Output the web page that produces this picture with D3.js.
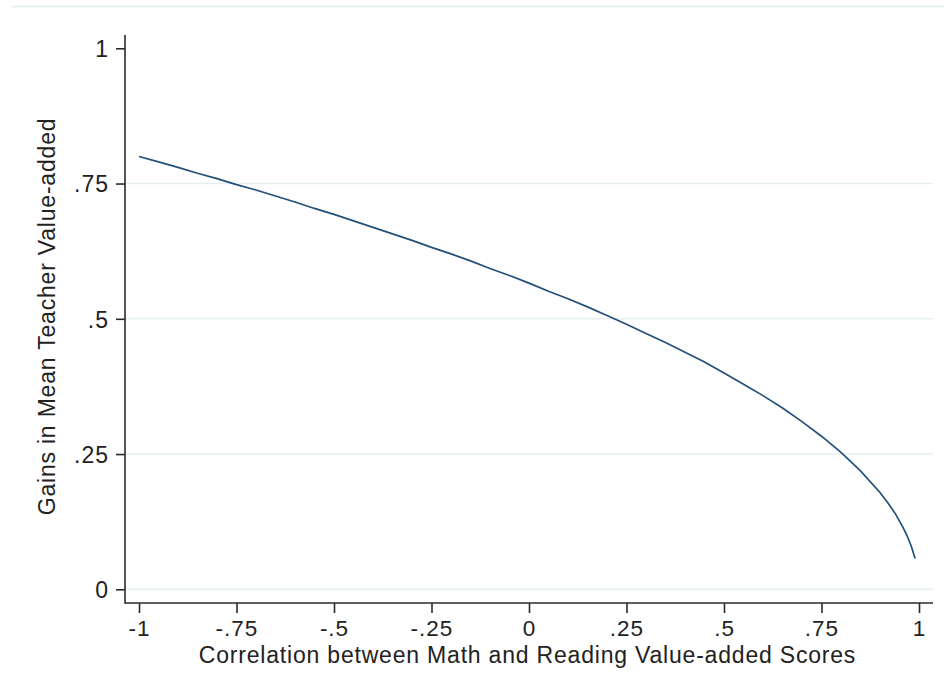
<!DOCTYPE html>
<html>
<head>
<meta charset="utf-8">
<script src="https://cdn.jsdelivr.net/npm/d3@7"></script>
<style>
  html, body { margin: 0; padding: 0; background: #ffffff; }
  svg { display: block; }
  text { font-family: "Liberation Sans", Arial, sans-serif; fill: #222; }
</style>
</head>
<body>
<svg id="chart" width="944" height="693"></svg>
<script>
// ---- data ----
const correlation = [-1, -0.95, -0.9, -0.85, -0.8, -0.75, -0.7, -0.65, -0.6, -0.55,
  -0.5, -0.45, -0.4, -0.35, -0.3, -0.25, -0.2, -0.15, -0.1, -0.05,
  0, 0.05, 0.1, 0.15, 0.2, 0.25, 0.3, 0.35, 0.4, 0.45,
  0.5, 0.55, 0.6, 0.65, 0.7, 0.75, 0.8, 0.85, 0.9, 0.92, 0.94, 0.96, 0.97, 0.98, 0.99];
const gains = [0.800, 0.790, 0.780, 0.769, 0.759, 0.748, 0.738, 0.727, 0.716, 0.704,
  0.693, 0.681, 0.669, 0.657, 0.645, 0.632, 0.620, 0.607, 0.593, 0.580,
  0.566, 0.551, 0.537, 0.522, 0.506, 0.490, 0.473, 0.456, 0.438, 0.420,
  0.400, 0.379, 0.358, 0.335, 0.310, 0.283, 0.253, 0.219, 0.179, 0.160, 0.139, 0.113, 0.098, 0.080, 0.057];
const xTicks = [-1, -0.75, -0.5, -0.25, 0, 0.25, 0.5, 0.75, 1];
const xTickLabels = ["-1", "-.75", "-.5", "-.25", "0", ".25", ".5", ".75", "1"];
const yTicks = [0, 0.25, 0.5, 0.75, 1];
const yTickLabels = ["0", ".25", ".5", ".75", "1"];
const yGridTicks = [0, 0.25, 0.5, 0.75];
const xTitle = "Correlation between Math and Reading Value-added Scores";
const yTitle = "Gains in Mean Teacher Value-added";

// ---- layout ----
const svg = d3.select("#chart");
const axisX = 125, axisY = 603;
const plotRight = 933, plotTop = 35;

const x = d3.scaleLinear().domain([-1, 1]).range([139, 919]);
const y = d3.scaleLinear().domain([0, 1]).range([589.3, 48.3]);

// faint top border of graph region
svg.append("line")
  .attr("x1", 12).attr("x2", 944).attr("y1", 6.5).attr("y2", 6.5)
  .attr("stroke", "#e9eff2").attr("stroke-width", 2);

// gridlines
svg.append("g").selectAll("line").data(yGridTicks).join("line")
  .attr("x1", axisX).attr("x2", plotRight)
  .attr("y1", d => y(d)).attr("y2", d => y(d))
  .attr("stroke", "#e6eff1").attr("stroke-width", 1.5);

// data line
const line = d3.line().x((d, i) => x(correlation[i])).y(d => y(d));
svg.append("path")
  .datum(gains)
  .attr("d", line)
  .attr("fill", "none")
  .attr("stroke", "#22507a")
  .attr("stroke-width", 1.7);

const tickFont = (g, size) => g.selectAll(".tick text").attr("fill", "#222")
  .style("font-size", size).style("letter-spacing", "1px")
  .style("font-family", '"Liberation Sans", Arial, sans-serif');

// y axis
const yAxis = d3.axisLeft(y).tickValues(yTicks).tickSize(9).tickPadding(7)
  .tickFormat((d, i) => yTickLabels[i]);
const gy = svg.append("g").attr("transform", `translate(${axisX},0)`).call(yAxis);
gy.select(".domain").remove();
gy.append("line").attr("x1", 0).attr("x2", 0).attr("y1", plotTop).attr("y2", axisY + 0.75)
  .attr("stroke", "#2a2a2a").attr("stroke-width", 1.6);
gy.selectAll(".tick line").attr("stroke", "#2a2a2a").attr("stroke-width", 1.6);
tickFont(gy, "23px");
gy.selectAll(".tick text").attr("dy", "0.36em");

// x axis
const xAxis = d3.axisBottom(x).tickValues(xTicks).tickSize(10).tickPadding(7)
  .tickFormat((d, i) => xTickLabels[i]);
const gx = svg.append("g").attr("transform", `translate(0,${axisY})`).call(xAxis);
gx.select(".domain").remove();
gx.append("line").attr("x1", axisX).attr("x2", plotRight).attr("y1", 0).attr("y2", 0)
  .attr("stroke", "#2a2a2a").attr("stroke-width", 1.6);
gx.selectAll(".tick line").attr("stroke", "#2a2a2a").attr("stroke-width", 1.6);
tickFont(gx, "22.5px");

// axis titles
svg.append("text")
  .attr("x", 527.5).attr("y", 663)
  .attr("text-anchor", "middle")
  .style("font-size", "23px").style("letter-spacing", "0.8px")
  .text(xTitle);

svg.append("text")
  .attr("transform", "translate(55,316.5) rotate(-90)")
  .attr("text-anchor", "middle")
  .style("font-size", "23px").style("letter-spacing", "0.8px")
  .text(yTitle);
</script>
</body>
</html>
